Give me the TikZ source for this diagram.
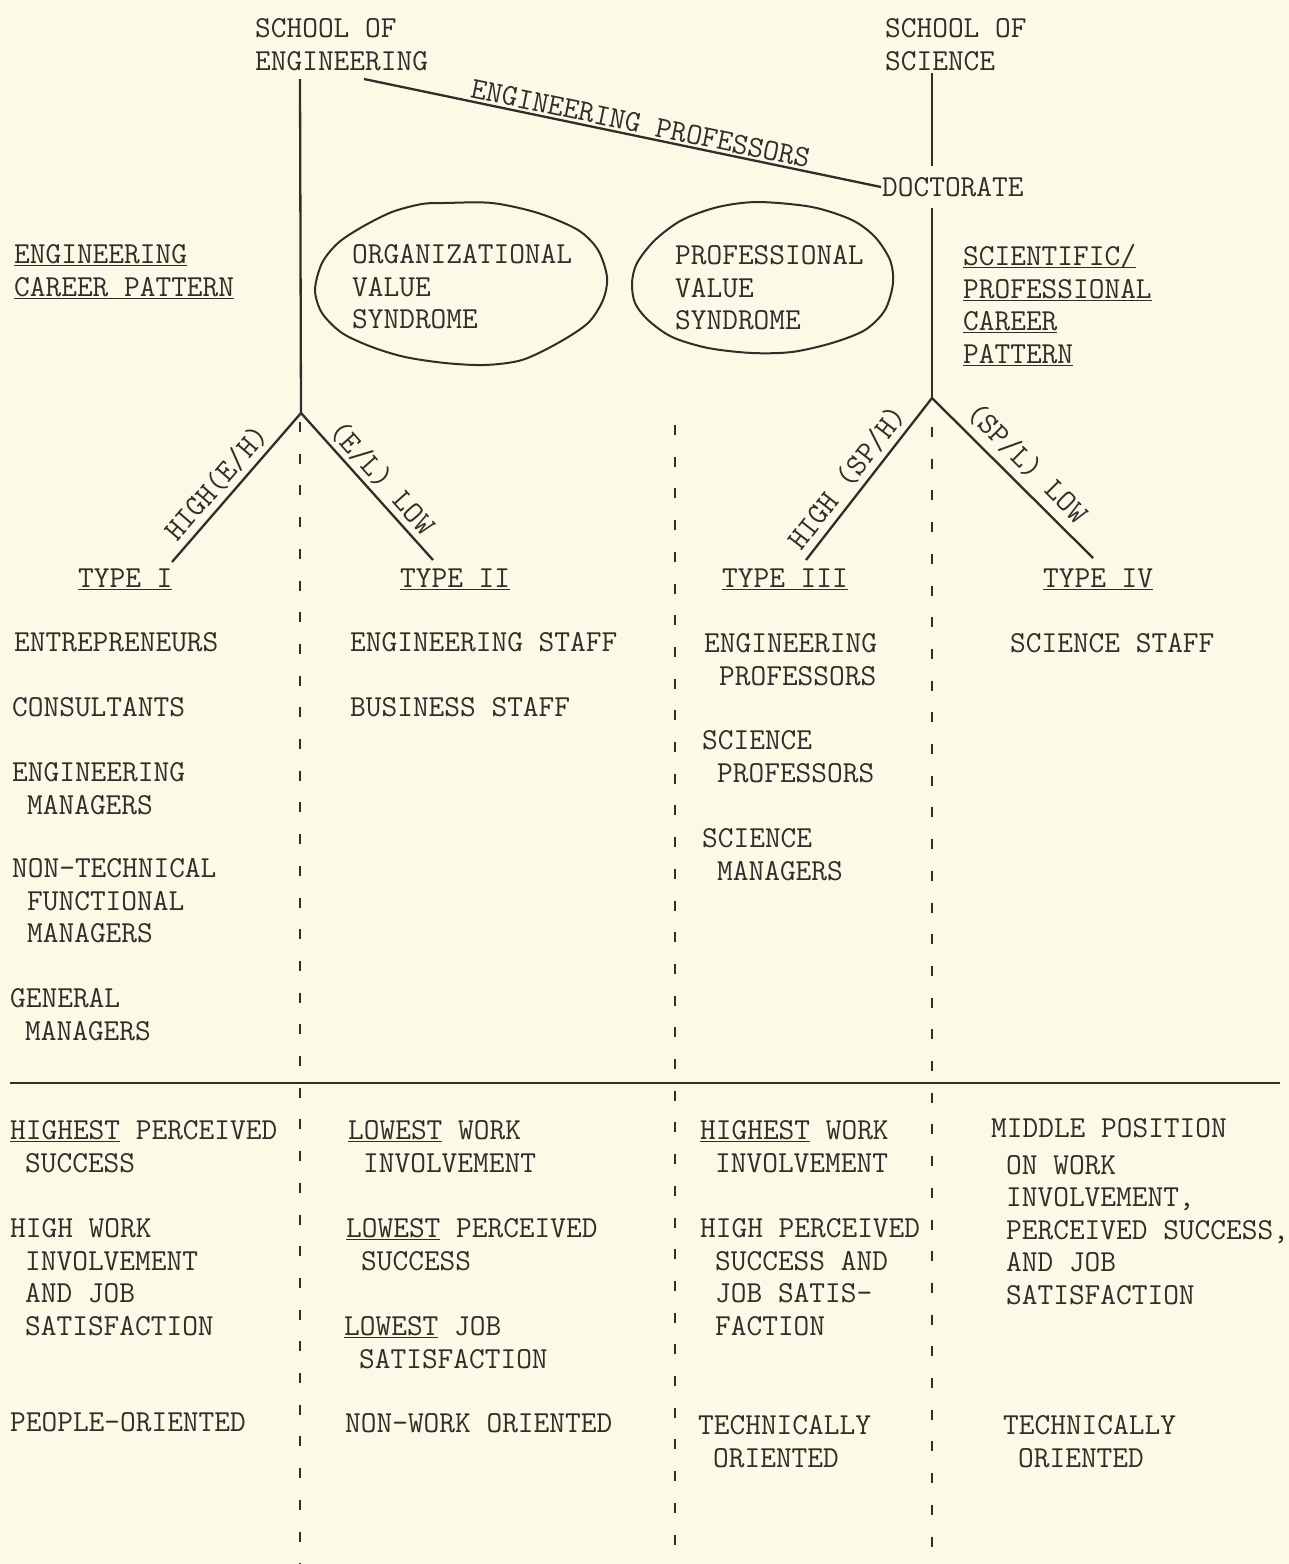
\documentclass[tikz,border=0pt]{standalone}
\usepackage{xcolor}
\definecolor{paper}{HTML}{FBFAE6}
\definecolor{ink}{HTML}{2F2E2A}
\newcommand{\typew}{\fontsize{30.5}{32.5}\selectfont\ttfamily}
\newcommand{\ind}{\hspace*{15pt}}
\tikzset{
  txt/.style={anchor=north west, inner sep=0pt, align=left, font=\typew, text=ink, yshift=9.3pt},
  lbl/.style={font=\typew, text=ink, inner sep=4pt, sloped, above},
  stem/.style={draw=ink, line width=2.3pt},
  divider/.style={draw=ink, line width=1.4pt, dash pattern=on 10pt off 21.7pt},
  blob/.style={draw=ink, line width=2pt},
}

\begin{document}
\begin{tikzpicture}[x=1pt, y=-1pt]
\fill[paper] (0,0) rectangle (1289,1564);
\useasboundingbox (0,0) rectangle (1289,1564);

%--- SCHOOLS ---
\node[txt] (seng) at (255,28) {SCHOOL OF\\ENGINEERING};
\node[txt] (ssci) at (885,28) {SCHOOL OF\\SCIENCE};
\node[font=\typew, text=ink, anchor=west, inner xsep=1pt, inner ysep=11pt] (doc) at (881,187) {DOCTORATE};

\coordinate (etop) at (300,79);
\coordinate (ejunc) at (301,413);
\coordinate (e1) at (172,562);
\coordinate (e2) at (433,560);
\coordinate (eprof) at (364,79);
\coordinate (stop) at (932,73);
\coordinate (sjunc) at (932,398);
\coordinate (s1) at (806,560);
\coordinate (s2) at (1093,558);

%--- STEMS AND BRANCHES ---
\draw[stem] (etop) -- (ejunc);
\draw[stem] (e1) -- node[lbl, pos=0.45, inner sep=5pt] {HIGH(E/H)} (ejunc)
  -- node[lbl, pos=0.52] {(E/L) LOW} (e2);
\draw[stem] (eprof) -- node[lbl, pos=0.53, inner sep=2pt] {ENGINEERING PROFESSORS} (doc.west);
\draw[stem] (stop) -- (stop |- doc.north);
\draw[stem] (stop |- doc.south) -- (sjunc);
\draw[stem] (s1) -- node[lbl, pos=0.44, inner sep=5pt] {HIGH (SP/H)} (sjunc)
  -- node[lbl, pos=0.5, inner sep=8pt] {(SP/L) LOW} (s2);

%--- COLUMN DIVIDERS ---
\foreach \x/\y in {300/422, 675/425, 932/427}
  \draw[divider] (\x,\y) -- (\x,1564);
\coordinate (hl) at (10,1083);
\coordinate (hr) at (1280,1083);
\draw[stem, line width=2pt] (hl) -- (hr);

%--- VALUE SYNDROMES ---
\draw[blob] plot[smooth cycle] coordinates {(445,203) (492,203) (538,213) (578,230) (598,250)
  (607,277) (603,300) (588,323) (558,343) (522,360) (485,365) (445,363) (405,357) (372,347)
  (342,333) (322,313) (315,290) (322,263) (338,243) (362,227) (392,212) (422,204)};
\draw[blob] plot[smooth cycle] coordinates {(758,202) (812,207) (852,220) (875,237) (890,260)
  (893,283) (885,310) (865,330) (832,343) (792,352) (752,353) (708,348) (672,337) (648,320)
  (635,303) (632,283) (637,263) (655,240) (682,220) (718,207)};
\node[txt] (org) at (352,254) {ORGANIZATIONAL\\VALUE\\SYNDROME};
\node[txt] (prof) at (675,255) {PROFESSIONAL\\VALUE\\SYNDROME};

%--- CAREER PATTERNS ---
\node[txt] (ecp) at (14,254) {\underline{ENGINEERING}\\\underline{CAREER PATTERN}};
\node[txt] (spcp) at (963,256) {\underline{SCIENTIFIC\smash{/}}\\\underline{PROFESSIONAL}\\\underline{CAREER}\\\underline{PATTERN}};

%--- TYPES ---
\node[txt] (t1) at (78,578) {\underline{TYPE I}};
\node[txt] (t2) at (400,578) {\underline{TYPE II}};
\node[txt] (t3) at (722,578) {\underline{TYPE III}};
\node[txt] (t4) at (1043,578) {\underline{TYPE IV}};

%--- OCCUPATIONS ---
\node[txt] (entr) at (14,642) {ENTREPRENEURS};
\node[txt] (cons) at (12,707) {CONSULTANTS};
\node[txt] (engm) at (12,772) {ENGINEERING\\\ind MANAGERS};
\node[txt] (nont) at (12,868) {NON-TECHNICAL\\\ind FUNCTIONAL\\\ind MANAGERS};
\node[txt] (genm) at (10,998) {GENERAL\\\ind MANAGERS};
\node[txt] (engs) at (350,642) {ENGINEERING STAFF};
\node[txt] (buss) at (350,707) {BUSINESS STAFF};
\node[txt] (engp) at (704,643) {ENGINEERING\\\ind PROFESSORS};
\node[txt] (scip) at (702,740) {SCIENCE\\\ind PROFESSORS};
\node[txt] (scim) at (702,838) {SCIENCE\\\ind MANAGERS};
\node[txt] (scis) at (1010,643) {SCIENCE STAFF};

%--- ATTITUDES ---
\node[txt] (a1) at (10,1130) {\underline{HIGHEST} PERCEIVED\\\ind SUCCESS};
\node[txt] (a2) at (10,1228) {HIGH WORK\\\ind INVOLVEMENT\\\ind AND JOB\\\ind SATISFACTION};
\node[txt] (a3) at (10,1422) {PEOPLE-ORIENTED};
\node[txt] (b1) at (348,1130) {\underline{LOWEST} WORK\\\ind INVOLVEMENT};
\node[txt] (b2) at (346,1228) {\underline{LOWEST} PERCEIVED\\\ind SUCCESS};
\node[txt] (b3) at (344,1326) {\underline{LOWEST} JOB\\\ind SATISFACTION};
\node[txt] (b4) at (345,1423) {NON-WORK ORIENTED};
\node[txt] (c1) at (700,1130) {\underline{HIGHEST} WORK\\\ind INVOLVEMENT};
\node[txt] (c2) at (700,1228) {HIGH PERCEIVED\\\ind SUCCESS AND\\\ind JOB SATIS-\\\ind FACTION};
\node[txt] (c3) at (698,1425) {TECHNICALLY\\\ind ORIENTED};
\node[txt] (d1) at (991,1128) {MIDDLE POSITION\\[4pt]\ind ON WORK\\\ind INVOLVEMENT,\\\ind PERCEIVED SUCCESS,\\\ind AND JOB\\\ind SATISFACTION};
\node[txt] (d2) at (1003,1425) {TECHNICALLY\\\ind ORIENTED};

\end{tikzpicture}
\end{document}
